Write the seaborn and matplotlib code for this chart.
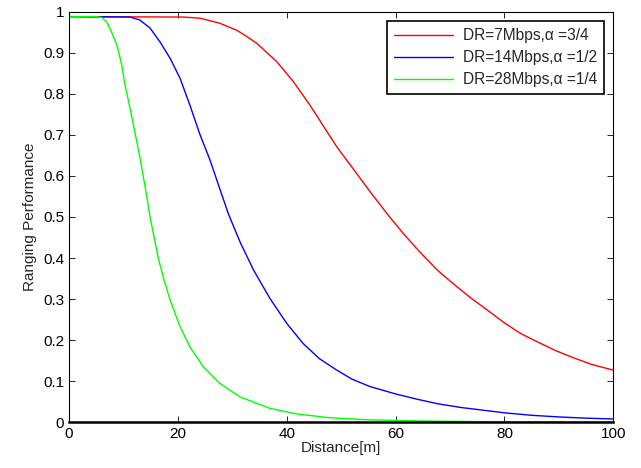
import numpy as np
import pandas as pd
import seaborn as sns
import matplotlib.pyplot as plt

# Datos
x_red = [0, 21, 24.1, 25.6, 27.7, 30.8, 32.5, 34.5, 36.4, 38.2, 41.2, 44.3, 47, 49.2, 52, 55.3, 58.5,
         61.4, 64.5, 67.8, 71, 74, 77.3, 80, 83, 86.5, 89.5, 92.7, 96, 100]
y_red = [0.988, 0.987, 0.984, 0.979, 0.972, 0.955, 0.941, 0.923, 0.90, 0.878, 0.83, 0.772, 0.716, 0.671,
         0.621, 0.562, 0.507, 0.46, 0.414, 0.369, 0.333, 0.301, 0.269, 0.242, 0.216, 0.193, 0.174, 0.157,
         0.141, 0.127]

x_blue = [0, 11.2, 13.0, 14.9, 16.7, 18.6, 20.4, 22.2, 24, 25.9, 27.7, 29.3, 31.5, 33.9, 36.9, 40, 43, 46,
          49.2, 52, 55.3, 60, 64, 67.8, 72, 77.3, 80, 85, 90, 95, 100]
y_blue = [0.988, 0.987, 0.98, 0.96, 0.927, 0.886, 0.838, 0.773, 0.703, 0.639, 0.569, 0.507, 0.437, 0.371,
          0.302, 0.241, 0.192, 0.155, 0.127, 0.105, 0.087, 0.069, 0.056, 0.045, 0.036, 0.0275, 0.023,
          0.017, 0.013, 0.010, 0.008]

x_green = [0, 5, 6.0, 6.9, 7.8, 8.8, 9.7, 10.3, 10.9, 12, 13, 14, 14.9, 16.4, 17.5, 18.6, 20.4, 22.2, 24.7,
           27.7, 31.4, 36.9, 42, 48, 55, 65, 80, 100]
y_green = [0.988, 0.988, 0.986, 0.976, 0.951, 0.919, 0.870, 0.821, 0.785, 0.714, 0.647, 0.573, 0.50, 0.40,
           0.345, 0.297, 0.233, 0.184, 0.135, 0.095, 0.062, 0.034, 0.020, 0.011, 0.006, 0.003, 0.001, 0.0003]

labels = ['DR=7Mbps,α =3/4', 'DR=14Mbps,α =1/2', 'DR=28Mbps,α =1/4']
colores = ['#ff0000', '#0000ff', '#00ff00']
x_ticks = [0, 20, 40, 60, 80, 100]
y_ticks = [0, 0.1, 0.2, 0.3, 0.4, 0.5, 0.6, 0.7, 0.8, 0.9, 1]

df = pd.concat([
    pd.DataFrame({'x': x_red, 'y': y_red, 'serie': labels[0]}),
    pd.DataFrame({'x': x_blue, 'y': y_blue, 'serie': labels[1]}),
    pd.DataFrame({'x': x_green, 'y': y_green, 'serie': labels[2]}),
])

sns.set_style('ticks')
plt.rcParams['font.family'] = ['Liberation Sans', 'DejaVu Sans']
plt.rcParams['xtick.direction'] = 'in'
plt.rcParams['ytick.direction'] = 'in'

fig = plt.figure(figsize=(6.41, 4.68), dpi=100)
ax = fig.add_axes([0.1076, 0.0977, 0.8492, 0.8773])
sns.lineplot(data=df, x='x', y='y', hue='serie', palette=colores, linewidth=1.0, ax=ax, sort=False,
             estimator=None)

ax.set_xlim(0, 100)
ax.set_ylim(0, 1)
ax.set_xticks(x_ticks)
ax.set_yticks(y_ticks)
ax.set_yticklabels(['0', '0.1', '0.2', '0.3', '0.4', '0.5', '0.6', '0.7', '0.8', '0.9', '1'])
ax.tick_params(labelsize=11, top=True, right=True, length=4, width=0.6, colors='black')
for s in ax.spines.values():
    s.set_linewidth(0.8)
    s.set_color('black')
ax.spines['bottom'].set_linewidth(1.8)
ax.set_xlabel('Distance[m]', fontsize=11, labelpad=0)
ax.set_ylabel('Ranging Performance', fontsize=11, labelpad=4)

leg = ax.legend(loc='upper right', fontsize=11.2, handlelength=3.8, frameon=True, fancybox=False,
                edgecolor='black', framealpha=1, borderaxespad=0.6, labelspacing=0.45,
                borderpad=0.45, handletextpad=0.6)
leg.get_frame().set_linewidth(1.2)

plt.savefig('out.png', dpi=100)
